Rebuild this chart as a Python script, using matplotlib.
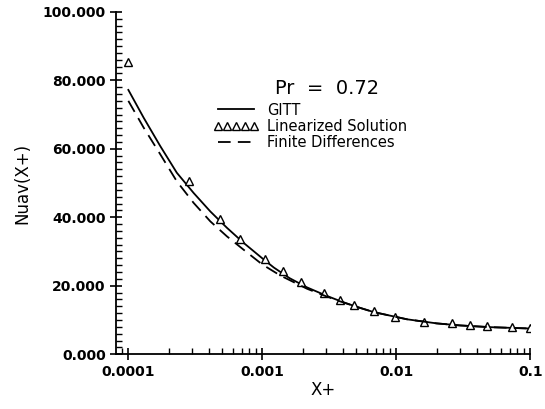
import matplotlib.pyplot as plt
from matplotlib.ticker import FixedLocator, MultipleLocator, LogLocator, NullFormatter

# GITT solution
gitt_x = [1e-4, 1.3e-4, 1.73e-4, 2.3e-4, 3.07e-4, 4.09e-4, 5.45e-4, 7.26e-4,
          1e-3, 1.22e-3, 1.6e-3, 2.16e-3, 3e-3, 3.82e-3, 5e-3, 6.78e-3,
          1.2e-2, 2e-2, 3e-2, 5e-2, 1e-1]
gitt_y = [77.2, 69.1, 60.8, 53.0, 47.1, 41.7, 36.9, 32.5,
          28.0, 25.3, 22.2, 19.5, 17.1, 15.5, 13.9, 12.3,
          10.2, 9.0, 8.4, 7.9, 7.5]

# finite differences
fd_x = [1e-4, 1.3e-4, 1.73e-4, 2.3e-4, 3.07e-4, 4.09e-4, 5.45e-4, 7.26e-4,
        1e-3, 1.36e-3, 2.16e-3, 3e-3, 3.82e-3, 5e-3, 6.78e-3,
        1.2e-2, 2e-2, 3e-2, 5e-2, 1e-1]
fd_y = [74.0, 66.2, 58.4, 50.5, 44.2, 38.8, 34.4, 30.5,
        26.2, 23.0, 19.1, 16.9, 15.4, 13.9, 12.3,
        10.2, 9.0, 8.4, 7.9, 7.5]

# linearized solution
lin_x = [1e-4, 2.85e-4, 4.86e-4, 6.78e-4, 1.05e-3, 1.43e-3, 1.95e-3, 2.87e-3,
         3.82e-3, 4.8e-3, 6.78e-3, 9.7e-3, 1.6e-2, 2.6e-2, 3.57e-2, 4.75e-2,
         7.3e-2, 1e-1]
lin_y = [85.4, 50.5, 39.6, 33.6, 27.8, 24.3, 21.2, 18.0,
         15.8, 14.4, 12.7, 10.9, 9.5, 9.0, 8.5, 8.2,
         7.8, 7.7]

x_ticks = [1e-4, 1e-3, 1e-2, 1e-1]
x_tick_labels = ["0.0001", "0.001", "0.01", "0.1"]
y_ticks = [0, 20, 40, 60, 80, 100]
y_tick_labels = ["0.000", "20.000", "40.000", "60.000", "80.000", "100.000"]

plt.rcParams["font.family"] = "DejaVu Sans"

fig = plt.figure(figsize=(5.45, 4.09), dpi=100)
ax = fig.add_axes([0.213, 0.134, 0.76, 0.837])

ax.plot(gitt_x, gitt_y, color="black", lw=1.3, label="GITT")
ax.plot(lin_x, lin_y, ls="none", marker="^", mfc="white", mec="black",
        ms=6, mew=1.0, label="Linearized Solution")
ax.plot(fd_x, fd_y, color="black", lw=1.3, ls=(0, (7, 4)),
        label="Finite Differences")

ax.set_xscale("log")
ax.set_xlim(8.1e-5, 0.1)
ax.set_ylim(0, 100)

ax.xaxis.set_major_locator(FixedLocator(x_ticks))
ax.set_xticklabels(x_tick_labels)
ax.xaxis.set_minor_locator(LogLocator(base=10, subs=range(2, 10)))
ax.xaxis.set_minor_formatter(NullFormatter())
ax.yaxis.set_major_locator(FixedLocator(y_ticks))
ax.set_yticklabels(y_tick_labels)
ax.yaxis.set_minor_locator(MultipleLocator(2))

ax.tick_params(which="major", direction="inout", length=8, width=1.2,
               labelsize=10)
ax.tick_params(which="minor", direction="in", length=4, width=1.0)
for lab in ax.get_xticklabels() + ax.get_yticklabels():
    lab.set_fontweight("bold")

ax.spines["top"].set_visible(False)
ax.spines["right"].set_visible(False)
ax.spines["left"].set_linewidth(1.3)
ax.spines["bottom"].set_linewidth(1.3)

ax.set_xlabel("X+", fontsize=12, labelpad=2)
ax.set_ylabel("Nuav(X+)", fontsize=12, labelpad=8)

ax.text(1.25e-3, 77.7, "Pr  =  0.72", fontsize=14, va="center")
ax.legend(loc="upper left", bbox_to_anchor=(0.235, 0.735), frameon=False,
          numpoints=5, handlelength=3.1, handletextpad=0.6,
          labelspacing=0.1, fontsize=10.5, markerscale=0.95,
          borderaxespad=0, borderpad=0)

fig.savefig("out.png", dpi=100)
